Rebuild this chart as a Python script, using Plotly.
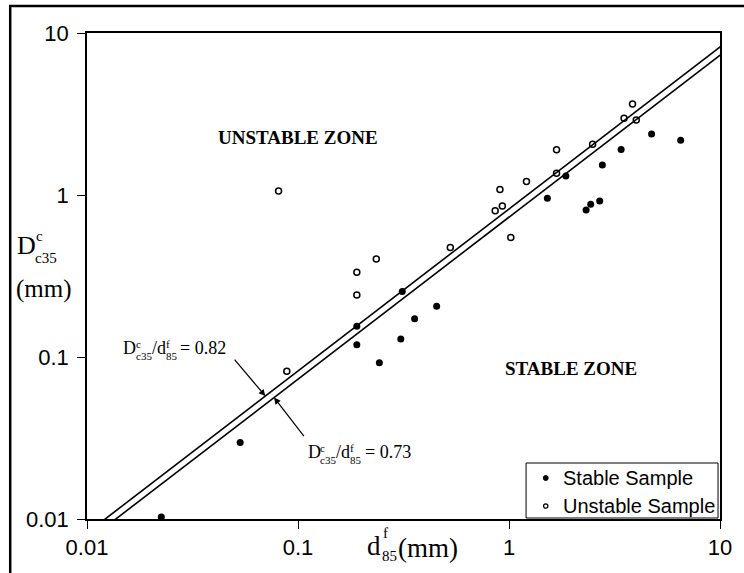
import numpy as np
import plotly.graph_objects as go

# Filter particle size d85 (mm) vs. core size Dc35 (mm)
stable_d85 = [0.0225, 0.0532, 0.190, 0.190, 0.243, 0.312, 0.307, 0.357, 0.454,
              1.52, 1.86, 2.32, 2.44, 2.69, 2.77, 3.40, 4.74, 6.51]
stable_dc35 = [0.0103, 0.0297, 0.155, 0.119, 0.092, 0.254, 0.129, 0.172, 0.206,
               0.954, 1.31, 0.807, 0.876, 0.918, 1.53, 1.91, 2.38, 2.18]

unstable_d85 = [0.0809, 0.0885, 0.190, 0.235, 0.190, 0.527, 0.86, 0.906, 0.93,
                1.02, 1.21, 1.68, 1.68, 2.49, 3.51, 3.85, 4.01]
unstable_dc35 = [1.06, 0.0817, 0.334, 0.402, 0.241, 0.475, 0.80, 1.08, 0.855,
                 0.547, 1.21, 1.90, 1.36, 2.06, 2.98, 3.64, 2.90]

# Boundary ratios Dc35 / d85
ratios = [0.82, 0.73]
line_d85 = [0.005, 20.0]

tick_vals = [0.01, 0.1, 1, 10]
tick_text = ["0.01", "0.1", "1", "10"]

legend_labels = ["Stable Sample", "Unstable Sample"]

SANS = "Arial, Liberation Sans, sans-serif"
SERIF = "Times New Roman, Liberation Serif, serif"

# Figure geometry (pixels) used to place paper-referenced items
W, H = 744, 573
L, R, T, B = 87, 14, 33, 54
PW, PH = W - L - R, H - T - B


def px(x):
    return (x - L) / PW


def py(y):
    return (H - B - y) / PH


fig = go.Figure()

for r in ratios:
    fig.add_trace(go.Scatter(
        x=line_d85, y=[r * v for v in line_d85], mode="lines",
        line=dict(color="black", width=1.6), showlegend=False, hoverinfo="skip"))

fig.add_trace(go.Scatter(
    x=stable_d85, y=stable_dc35, mode="markers", name=legend_labels[0],
    marker=dict(symbol="circle", size=7, color="black"), showlegend=False))
fig.add_trace(go.Scatter(
    x=unstable_d85, y=unstable_dc35, mode="markers", name=legend_labels[1],
    marker=dict(symbol="circle-open", size=6, color="black", line=dict(width=1.5)),
    showlegend=False))

axis_common = dict(
    type="log", range=[-2, 1], tickvals=tick_vals, ticktext=tick_text,
    ticks="outside", ticklen=8, tickwidth=1.2, tickcolor="black",
    showline=True, linecolor="black", linewidth=1.5, mirror=True,
    showgrid=False, zeroline=False,
    tickfont=dict(family=SANS, size=22, color="black"),
)
fig.update_xaxes(**axis_common)
fig.update_yaxes(**axis_common, ticklabelstandoff=4)

ann = []
shapes = []


def text_at(x, y, text, size, family=SERIF, anchor="left"):
    ann.append(dict(
        x=px(x), y=py(y), xref="paper", yref="paper", xanchor=anchor,
        yanchor="middle", text=text, showarrow=False, borderpad=0,
        font=dict(family=family, size=size, color="black")))


def ratio_label(x0, yc, value):
    # D^c_c35 / d^f_85 = value, with stacked super/subscripts
    big, small = 18, 11
    x = x0
    text_at(x, yc, "D", big)
    x += 0.722 * big
    text_at(x, yc - 4, "c", small)
    text_at(x, yc + 8, "c35", small)
    x += 1.444 * small
    text_at(x, yc, "/d", big)
    x += 0.778 * big
    text_at(x, yc - 4, "f", small)
    text_at(x, yc + 8, "85", small)
    x += 1.0 * small + 4
    text_at(x, yc, "= {:.2f}".format(value), big)


# Arrows pointing at the two boundary lines
arrow_specs = [(ratios[0], 0.070, -32, -38), (ratios[1], 0.077, 31, 40)]
for r, xd, ax, ay in arrow_specs:
    ann.append(dict(
        x=np.log10(xd), y=np.log10(r * xd), xref="x", yref="y",
        text="", showarrow=True, arrowhead=2, arrowsize=1.1, arrowwidth=1.2,
        arrowcolor="black", ax=ax, ay=ay, standoff=0))

ratio_label(123, 348, ratios[0])
ratio_label(310, 452, ratios[1])

# Zone labels
text_at(301, 137, "<b>UNSTABLE ZONE</b>", 19, anchor="center")
text_at(579, 368, "<b>STABLE ZONE</b>", 19, anchor="center")

# Y axis title
text_at(15, 246, "D", 26)
text_at(34, 236, "c", 15)
text_at(33, 258, "c35", 15)
text_at(14, 289, "(mm)", 25)

# X axis title
text_at(370, 546, "d", 27)
text_at(387, 533, "f", 15)
text_at(386, 556, "85", 15)
text_at(402, 548, "(mm)", 27)

# Legend box with symbols and labels
shapes.append(dict(type="rect", xref="paper", yref="paper",
                   x0=px(533), x1=px(728), y0=py(518), y1=py(463),
                   line=dict(color="black", width=1), fillcolor="white", layer="above"))
shapes.append(dict(type="circle", xref="paper", yref="paper",
                   x0=px(550.5), x1=px(555.5), y0=py(480.5), y1=py(475.5),
                   line=dict(color="black", width=1), fillcolor="black", layer="above"))
shapes.append(dict(type="circle", xref="paper", yref="paper",
                   x0=px(550.8), x1=px(555.2), y0=py(508.2), y1=py(503.8),
                   line=dict(color="black", width=1.2), fillcolor="white", layer="above"))
text_at(569, 478, legend_labels[0], 20, family=SANS)
text_at(569, 506, legend_labels[1], 20, family=SANS)

# Outer frame
shapes.append(dict(type="rect", xref="paper", yref="paper",
                   x0=px(9), x1=px(760), y0=py(590), y1=py(6),
                   line=dict(color="black", width=2.5),
                   fillcolor="rgba(0,0,0,0)", layer="below"))

fig.update_layout(
    width=W, height=H,
    margin=dict(l=L, r=R, t=T, b=B),
    paper_bgcolor="white", plot_bgcolor="white",
    annotations=ann, shapes=shapes, showlegend=False,
)

fig.write_html("out.html")
